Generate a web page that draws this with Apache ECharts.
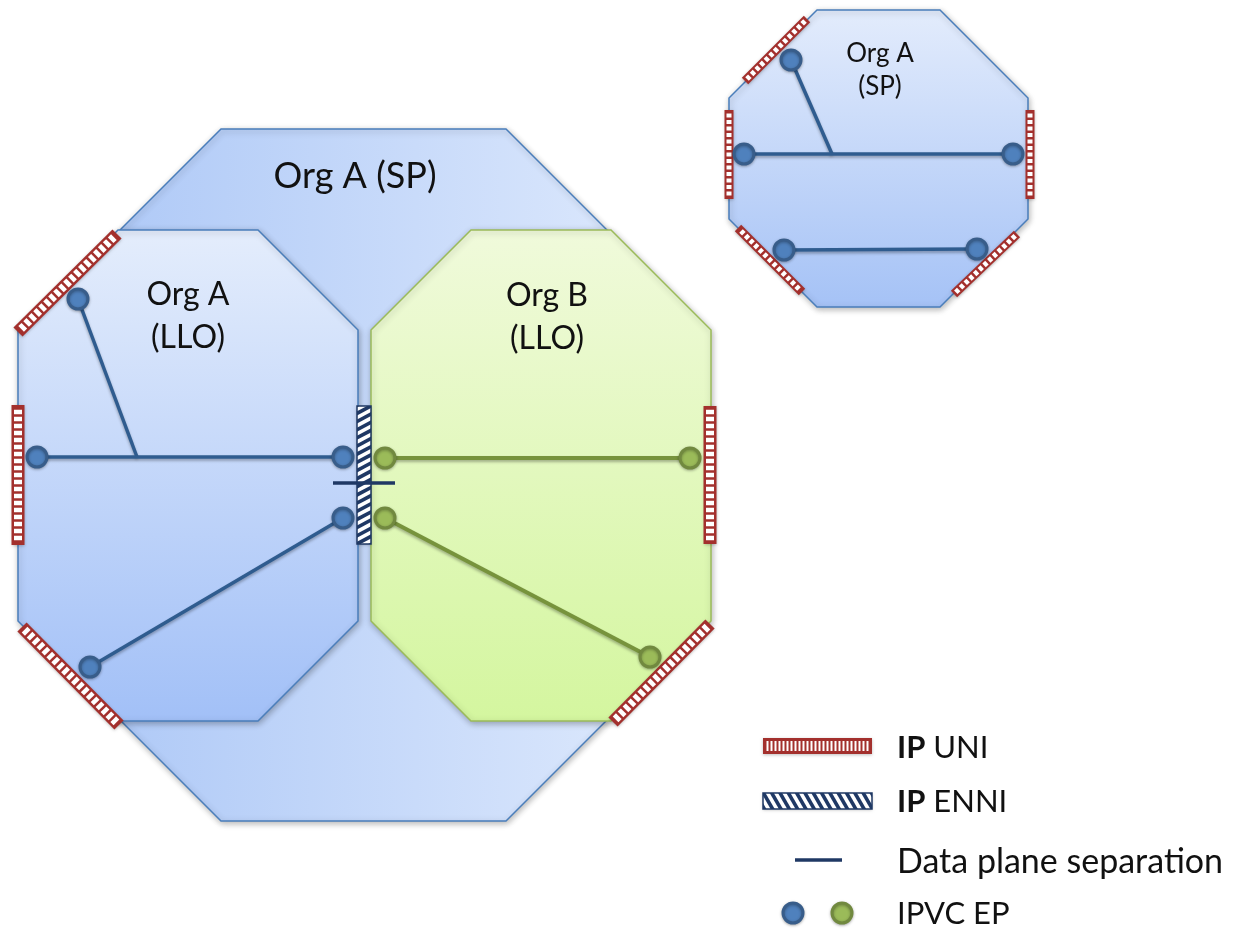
<!DOCTYPE html>
<html>
<head>
<meta charset="utf-8">
<script src="https://cdn.jsdelivr.net/npm/echarts@6/dist/echarts.min.js"></script>
<style>
  html, body { margin: 0; padding: 0; background: #fff; }
  #main { width: 1242px; height: 930px; }
</style>
</head>
<body>
<div id="main"></div>
<script>
// octagons: [left, top, right, bottom, corner]
var octagonNames = ['Org A (SP)', 'Org A (LLO)', 'Org B (LLO)', 'Org A (SP) mini'];
var octagonBoxes = [
  [120, 129, 607, 821, 101],
  [18, 230, 358, 721, 100],
  [371, 230, 711, 721, 100],
  [729, 10, 1028, 307, 88]
];

// IPVC links [x1, y1, x2, y2]
var blueLinks = [
  [78, 299, 137, 457], [37, 457, 343, 457], [343, 518, 90, 667],
  [791, 60, 832, 154], [744, 154, 1013, 154], [784, 250, 977, 249]
];
var greenLinks = [[385, 458, 690, 458], [385, 518, 650, 657]];

// endpoints (last one of each = legend)
var blueDots = [[78, 299], [37, 457], [343, 457], [343, 518], [90, 667],
  [791, 60], [744, 154], [1013, 154], [784, 250], [977, 249], [793, 913]];
var greenDots = [[385, 458], [690, 458], [385, 518], [650, 657], [842, 913]];

// UNIs, centre line [x1, y1, x2, y2]
var uniMain = [[18, 332, 117, 234], [18, 405, 18, 545], [22, 627, 119, 725],
  [710, 406, 710, 544], [613, 722, 710, 624]];
var uniMini = [[745, 81, 807, 19], [729, 110, 729, 199], [1030, 110, 1030, 199],
  [738, 228, 802, 292], [954, 294, 1017, 234]];
var uniLegend = [[763, 746, 872, 746]];

// ENNIs [x0, y0, x1, y1]
var enniMain = [[357, 406, 371, 544]];
var enniLegend = [[763, 793, 872, 809]];

// data plane separation
var separation = [[333, 483, 395, 483], [795, 860, 842, 860]];

var labelTexts = ['Org A (SP)', 'Org A', '(LLO)', 'Org B', '(LLO)', 'Org A', '(SP)'];
var labelPoints = [[355, 176], [188, 295], [188, 338], [547, 296], [547, 339], [880, 54], [880, 87]];
var labelLevels = [0, 1, 1, 1, 1, 2, 2];

var legendTexts = ['{b|IP} UNI', '{b|IP} ENNI', 'Data plane separation', 'IPVC EP'];
var legendPoints = [[897, 748], [897, 802], [897, 862], [897, 914]];

var FONT = 'Lato';
var RED = '#a3302d', NAVY = '#1f3864';

function octagon(b) {
  var l = b[0], t = b[1], r = b[2], bt = b[3], c = b[4];
  return [[l + c, t], [r - c, t], [r, t + c], [r, bt - c], [r - c, bt], [l + c, bt], [l, bt - c], [l, t + c]];
}

var octFills = [
  new echarts.graphic.LinearGradient(0, 0, 1, 0, [{offset: 0, color: '#b0caf7'}, {offset: 1, color: '#d9e6fc'}]),
  new echarts.graphic.LinearGradient(0, 0, 0, 1, [{offset: 0, color: '#e4edfc'}, {offset: 1, color: '#a2c0f7'}]),
  new echarts.graphic.LinearGradient(0, 0, 0, 1, [{offset: 0, color: '#f0fadb'}, {offset: 1, color: '#d4f69f'}]),
  new echarts.graphic.LinearGradient(0, 0, 0, 1, [{offset: 0, color: '#e3ecfc'}, {offset: 1, color: '#a5c2f6'}])
];
var octStrokes = ['#4a7ebb', '#4a7ebb', '#9bbb59', '#4a7ebb'];

function renderLinks(links, color, width) {
  return function (params, api) {
    var l = links[params.dataIndex];
    var a = api.coord([l[0], l[1]]), b = api.coord([l[2], l[3]]);
    return {
      type: 'line',
      shape: {x1: a[0], y1: a[1], x2: b[0], y2: b[1]},
      style: {stroke: color, lineWidth: width, shadowBlur: 3, shadowColor: 'rgba(0,0,0,0.3)', shadowOffsetY: 2}
    };
  };
}

function renderUni(bars, w, inset, period, slot) {
  return function (params, api) {
    var b = bars[params.dataIndex];
    var p1 = api.coord([b[0], b[1]]), p2 = api.coord([b[2], b[3]]);
    var dx = p2[0] - p1[0], dy = p2[1] - p1[1], L = Math.sqrt(dx * dx + dy * dy);
    var u = [dx / L, dy / L], n = [-u[1], u[0]];
    function pt(a, c) { return [p1[0] + u[0] * a + n[0] * c, p1[1] + u[1] * a + n[1] * c]; }
    var h = w / 2;
    var children = [{
      type: 'polygon',
      shape: {points: [pt(0, -h), pt(L, -h), pt(L, h), pt(0, h)]},
      style: {fill: RED, shadowBlur: 3, shadowColor: 'rgba(0,0,0,0.25)', shadowOffsetY: 1}
    }];
    var endGap = 2;
    var count = Math.floor((L - 2 * endGap + (period - slot)) / period);
    var start = (L - (count * period - (period - slot))) / 2;
    for (var i = 0; i < count; i++) {
      var a = start + i * period;
      children.push({
        type: 'polygon',
        shape: {points: [pt(a, -h + inset), pt(a + slot, -h + inset), pt(a + slot, h - inset), pt(a, h - inset)]},
        style: {fill: '#fff'}
      });
    }
    return {type: 'group', children: children};
  };
}

function clipEdge(poly, inside, cross) {
  var out = [];
  for (var i = 0; i < poly.length; i++) {
    var a = poly[i], b = poly[(i + 1) % poly.length];
    var ia = inside(a), ib = inside(b);
    if (ia) out.push(a);
    if (ia !== ib) out.push(cross(a, b));
  }
  return out;
}
function atX(a, b, x) { var t = (x - a[0]) / (b[0] - a[0]); return [x, a[1] + t * (b[1] - a[1])]; }
function atY(a, b, y) { var t = (y - a[1]) / (b[1] - a[1]); return [a[0] + t * (b[0] - a[0]), y]; }
function clipToRect(poly, x0, y0, x1, y1) {
  poly = clipEdge(poly, function (p) { return p[0] >= x0; }, function (a, b) { return atX(a, b, x0); });
  poly = clipEdge(poly, function (p) { return p[0] <= x1; }, function (a, b) { return atX(a, b, x1); });
  poly = clipEdge(poly, function (p) { return p[1] >= y0; }, function (a, b) { return atY(a, b, y0); });
  poly = clipEdge(poly, function (p) { return p[1] <= y1; }, function (a, b) { return atY(a, b, y1); });
  return poly;
}

function renderEnni(rects, angleDeg, period, band) {
  return function (params, api) {
    var r = rects[params.dataIndex];
    var p0 = api.coord([r[0], r[1]]), p1 = api.coord([r[2], r[3]]);
    var x0 = Math.min(p0[0], p1[0]), x1 = Math.max(p0[0], p1[0]);
    var y0 = Math.min(p0[1], p1[1]), y1 = Math.max(p0[1], p1[1]);
    var ang = angleDeg * Math.PI / 180;
    var s = [Math.cos(ang), Math.sin(ang)], m = [-s[1], s[0]];
    var cx = (x0 + x1) / 2, cy = (y0 + y1) / 2, R = Math.sqrt((x1 - x0) * (x1 - x0) + (y1 - y0) * (y1 - y0));
    var children = [{
      type: 'rect', shape: {x: x0, y: y0, width: x1 - x0, height: y1 - y0},
      style: {fill: '#fff', shadowBlur: 3, shadowColor: 'rgba(0,0,0,0.25)', shadowOffsetY: 1}
    }];
    for (var t = -R; t < R; t += period) {
      var poly = [
        [cx + m[0] * t - s[0] * R, cy + m[1] * t - s[1] * R],
        [cx + m[0] * t + s[0] * R, cy + m[1] * t + s[1] * R],
        [cx + m[0] * (t + band) + s[0] * R, cy + m[1] * (t + band) + s[1] * R],
        [cx + m[0] * (t + band) - s[0] * R, cy + m[1] * (t + band) - s[1] * R]
      ];
      var c = clipToRect(poly, x0, y0, x1, y1);
      if (c.length > 2) children.push({type: 'polygon', shape: {points: c}, style: {fill: NAVY}});
    }
    children.push({
      type: 'rect', shape: {x: x0, y: y0, width: x1 - x0, height: y1 - y0},
      style: {fill: 'none', stroke: NAVY, lineWidth: 1.5}
    });
    return {type: 'group', children: children};
  };
}

var labelSizes = [36, 32, 26];
var legendSizes = [31, 31, 34, 31];

var chart = echarts.init(document.getElementById('main'));
chart.setOption({
  animation: false,
  grid: {left: 0, right: 0, top: 0, bottom: 0},
  xAxis: {type: 'value', min: 0, max: 1242, show: false},
  yAxis: {type: 'value', min: 0, max: 930, inverse: true, show: false},
  series: [
    {
      type: 'custom', name: 'orgs', silent: true,
      data: octagonBoxes,
      encode: {x: 0, y: 1},
      renderItem: function (params, api) {
        var i = params.dataIndex;
        var pts = octagon(octagonBoxes[i]).map(function (p) { return api.coord(p); });
        return {
          type: 'polygon',
          shape: {points: pts},
          style: {
            fill: octFills[i], stroke: octStrokes[i], lineWidth: 1.5,
            shadowBlur: 6, shadowColor: 'rgba(0,0,0,0.28)', shadowOffsetX: 1, shadowOffsetY: 2
          }
        };
      }
    },
    {type: 'custom', silent: true, data: blueLinks, encode: {x: 0, y: 1}, renderItem: renderLinks(blueLinks, '#2f5c8f', 3.5)},
    {type: 'custom', silent: true, data: greenLinks, encode: {x: 0, y: 1}, renderItem: renderLinks(greenLinks, '#77933c', 4)},
    {type: 'custom', silent: true, data: uniMain, encode: {x: 0, y: 1}, renderItem: renderUni(uniMain, 13, 2.5, 7, 4.5)},
    {type: 'custom', silent: true, data: uniMini, encode: {x: 0, y: 1}, renderItem: renderUni(uniMini, 9, 2, 6.5, 4)},
    {type: 'custom', silent: true, data: uniLegend, encode: {x: 0, y: 1}, renderItem: renderUni(uniLegend, 16, 3, 4, 2)},
    {
      type: 'scatter', silent: true, data: blueDots, symbolSize: 20,
      itemStyle: {color: '#4f81bd', borderColor: '#385d8a', borderWidth: 3, opacity: 1,
        shadowBlur: 3, shadowColor: 'rgba(0,0,0,0.3)', shadowOffsetY: 1}
    },
    {
      type: 'scatter', silent: true, data: greenDots, symbolSize: 20,
      itemStyle: {color: '#9bbb59', borderColor: '#71893f', borderWidth: 3, opacity: 1,
        shadowBlur: 3, shadowColor: 'rgba(0,0,0,0.3)', shadowOffsetY: 1}
    },
    {type: 'custom', silent: true, data: enniMain, encode: {x: 0, y: 1}, renderItem: renderEnni(enniMain, -28, 7.2, 3.6)},
    {type: 'custom', silent: true, data: enniLegend, encode: {x: 0, y: 1}, renderItem: renderEnni(enniLegend, 60, 7.2, 3.6)},
    {
      type: 'custom', silent: true, data: separation, encode: {x: 0, y: 1},
      renderItem: function (params, api) {
        var l = separation[params.dataIndex];
        var a = api.coord([l[0], l[1]]), b = api.coord([l[2], l[3]]);
        return {type: 'line', shape: {x1: a[0], y1: a[1], x2: b[0], y2: b[1]},
          style: {stroke: NAVY, lineWidth: 3.5}};
      }
    },
    {
      type: 'custom', silent: true, data: labelPoints, encode: {x: 0, y: 1},
      renderItem: function (params, api) {
        var i = params.dataIndex;
        var p = api.coord(labelPoints[i]);
        return {type: 'text', style: {
          text: labelTexts[i], x: p[0], y: p[1], align: 'center', verticalAlign: 'middle',
          fontFamily: FONT, fontSize: labelSizes[labelLevels[i]], fill: '#111'
        }};
      }
    },
    {
      type: 'custom', silent: true, data: legendPoints, encode: {x: 0, y: 1},
      renderItem: function (params, api) {
        var i = params.dataIndex;
        var p = api.coord(legendPoints[i]);
        var fs = legendSizes[i];
        return {type: 'text', style: {
          text: legendTexts[i], x: p[0], y: p[1], align: 'left', verticalAlign: 'middle',
          fontFamily: FONT, fontSize: fs, fill: '#111',
          rich: {b: {fontFamily: FONT, fontSize: fs, fontWeight: 'bold', fill: '#111'}}
        }};
      }
    }
  ]
});
window.addEventListener('resize', function () { chart.resize(); });
</script>
</body>
</html>
